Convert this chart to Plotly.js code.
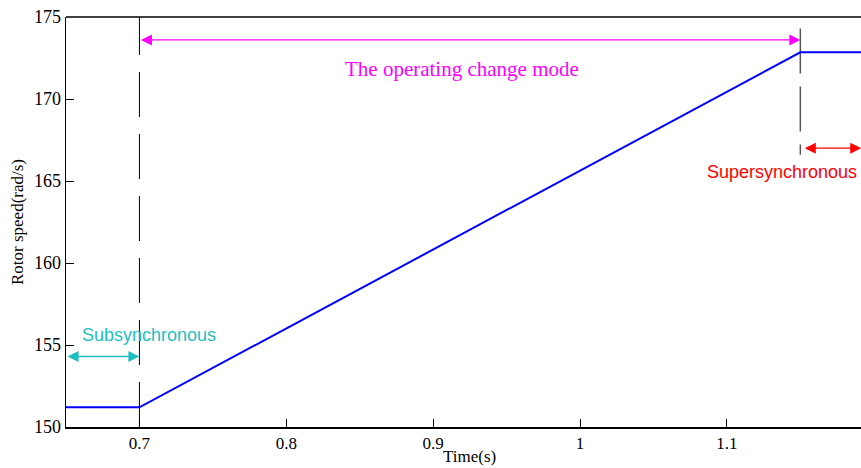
<!DOCTYPE html>
<html>
<head>
<meta charset="utf-8">
<script src="https://cdn.plot.ly/plotly-3.0.1.min.js"></script>
<style>html,body{margin:0;padding:0;background:#fff;}#chart{width:861px;height:468px;}</style>
</head>
<body>
<div id="chart"></div>
<script>
var timeS = [0.65, 0.7, 1.15, 1.2];
var rotorSpeed = [151.2, 151.2, 172.85, 172.85];
var modeTimes = [0.7, 1.15];
var xTicks = [0.7, 0.8, 0.9, 1, 1.1];
var xTickLabels = ['0.7', '0.8', '0.9', '1', '1.1'];
var yTicks = [150, 155, 160, 165, 170, 175];
var labels = ['The operating change mode', 'Subsynchronous', 'Supersynchronous'];
var xTitle = 'Time(s)';

var serif = 'Liberation Serif, Times New Roman, serif';
var sans = 'Liberation Sans, Arial, sans-serif';

var traces = [
  {x: [modeTimes[0], modeTimes[0]], y: [150, 175], mode: 'lines', line: {color: '#000', width: 1, dash: '45px,17px'}, hoverinfo: 'skip'},
  {x: [modeTimes[1], modeTimes[1]], y: [174.3, 166.6], mode: 'lines', line: {color: '#555', width: 1.5, dash: '45px,13px'}, hoverinfo: 'skip'},
  {x: timeS, y: rotorSpeed, mode: 'lines', line: {color: '#0000ff', width: 2}}
];

function arrow(x0, x1, y, color) {
  return {x: x1, y: y, ax: x0, ay: y, xref: 'x', yref: 'y', axref: 'x', ayref: 'y',
    showarrow: true, arrowhead: 2, startarrowhead: 2, arrowside: 'end+start',
    arrowsize: 1.7, startarrowsize: 1.7, arrowwidth: 1.3, arrowcolor: color, text: ''};
}

var layout = {
  width: 861, height: 468,
  margin: {l: 66, r: 0, t: 17, b: 41},
  paper_bgcolor: '#fff', plot_bgcolor: '#fff',
  showlegend: false,
  xaxis: {
    range: [0.65, 1.1913], tickvals: xTicks, ticktext: xTickLabels,
    ticks: 'inside', ticklen: 8, tickcolor: '#000', showgrid: false, zeroline: false,
    showline: true, linecolor: '#000', linewidth: 1.5, mirror: false,
    tickfont: {family: serif, size: 17, color: '#000'}
  },
  yaxis: {
    range: [150, 175], tickvals: yTicks,
    ticks: 'inside', ticklen: 8, tickcolor: '#000', showgrid: false, zeroline: false,
    showline: true, linecolor: '#000', linewidth: 1.5,
    tickfont: {family: serif, size: 18, color: '#000'},
    title: {text: 'Rotor speed(rad/s)', font: {family: serif, size: 17, color: '#000'}, standoff: 6}
  },
  shapes: [
    {type: 'line', xref: 'paper', yref: 'paper', x0: 0, x1: 1, y0: 1, y1: 1, line: {color: '#000', width: 1.5}}
  ],
  annotations: [
    arrow(modeTimes[0], modeTimes[1], 173.6, '#ff00ff'),
    arrow(0.65, modeTimes[0], 154.3, '#1fbfbf'),
    arrow(1.152, 1.1915, 167.0, '#ff0000'),
    {x: 0.9195, y: 171.85, xref: 'x', yref: 'y', text: labels[0], showarrow: false,
      font: {family: serif, size: 21, color: '#ff00ff'}},
    {x: 0.7064, y: 155.6, xref: 'x', yref: 'y', text: labels[1], showarrow: false,
      font: {family: sans, size: 18, color: '#1fbfbf'}},
    {x: 1.1898, y: 165.55, xref: 'x', yref: 'y', xanchor: 'right', text: labels[2], showarrow: false,
      font: {family: sans, size: 18, color: '#ff0000'}},
    {x: 0.508, y: -0.073, xref: 'paper', yref: 'paper', yanchor: 'middle', text: xTitle, showarrow: false,
      borderpad: 0, font: {family: serif, size: 17, color: '#000'}}
  ]
};

Plotly.newPlot('chart', traces, layout, {displayModeBar: false, staticPlot: true});
</script>
</body>
</html>
